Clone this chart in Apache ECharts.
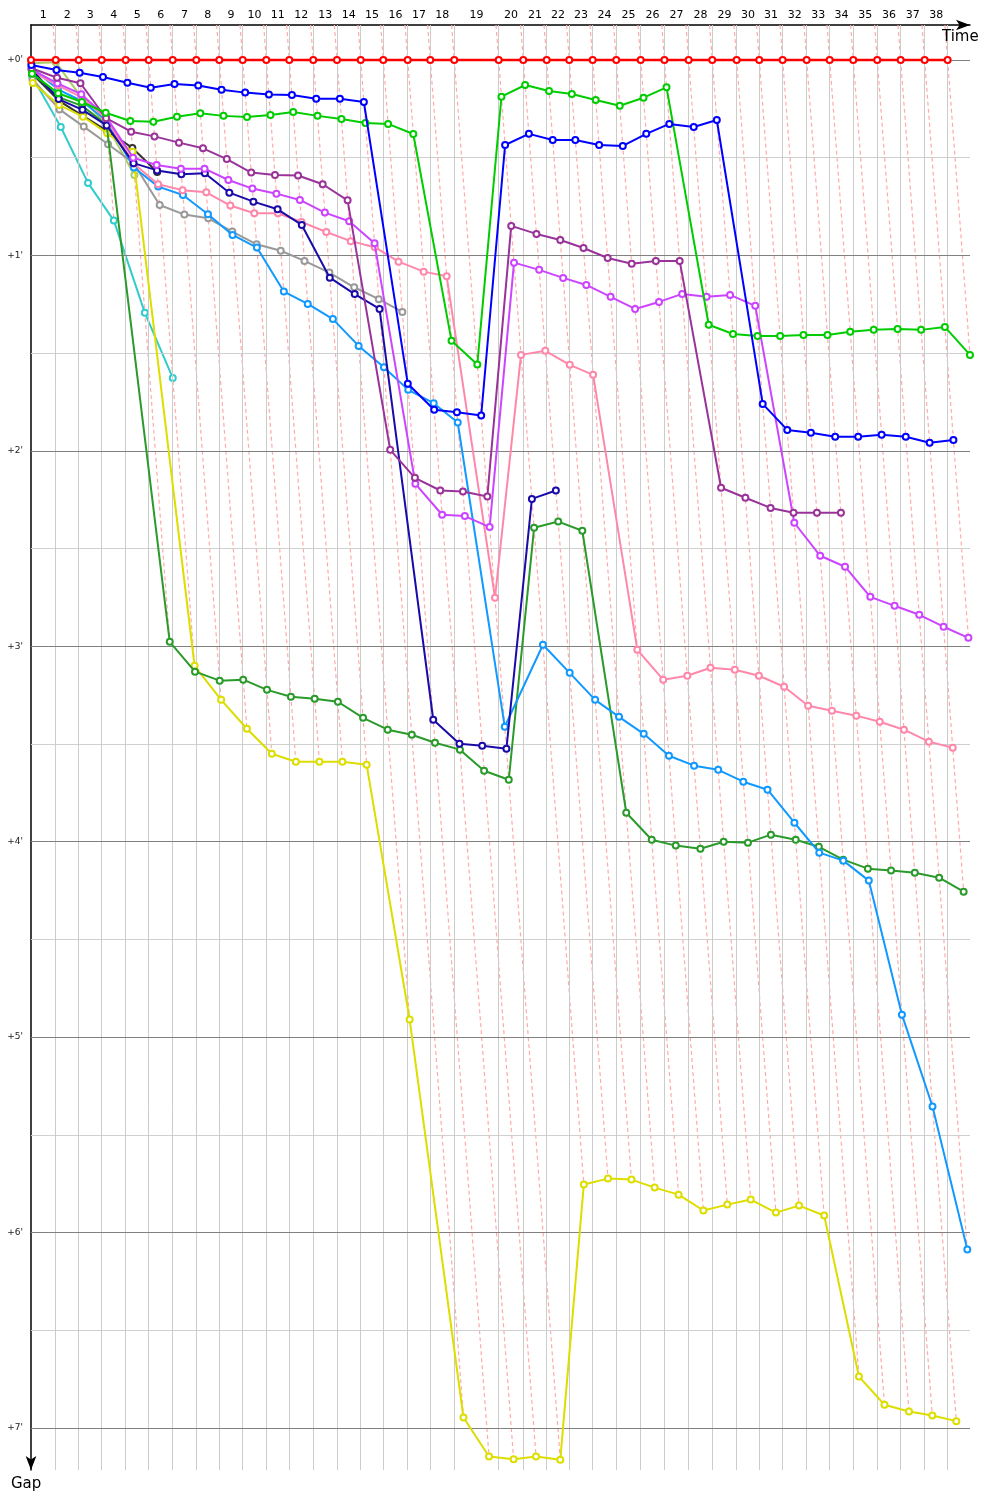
<!DOCTYPE html>
<html><head><meta charset="utf-8">
<script src="https://cdn.jsdelivr.net/npm/echarts@6/dist/echarts.min.js"></script>
<style>html,body{margin:0;padding:0;background:#fff}#c{width:1000px;height:1500px}</style>
</head><body><div id="c"></div>
<script>
// ---- data ----
const lapLabels = ['1','2','3','4','5','6','7','8','9','10','11','12','13','14','15','16','17','18','19','20','21','22','23','24','25','26','27','28','29','30','31','32','33','34','35','36','37','38'];
// leader's elapsed time (minutes) at end of each lap (index 0 = start)
const leaderTimes = [0, 1.669, 3.223, 4.777, 6.399, 7.953, 9.574, 11.169, 12.723, 14.304, 15.899, 17.453, 19.074, 20.676, 22.277, 23.804, 25.453, 26.980, 28.601, 31.601, 33.264, 34.845, 36.372, 37.953, 39.547, 41.196, 42.804, 44.439, 46.034, 47.682, 49.209, 50.790, 52.412, 53.966, 55.561, 57.182, 58.764, 60.385, 61.939];
// gaps to leader (minutes) per lap, index 0 = start
const gapLeader = [0,0,0,0,0,0,0,0,0,0,0,0,0,0,0,0,0,0,0,0,0,0,0,0,0,0,0,0,0,0,0,0,0,0,0,0,0,0,0];
const gapBlue = [0.026, 0.051, 0.065, 0.087, 0.116, 0.142, 0.123, 0.131, 0.152, 0.167, 0.177, 0.179, 0.198, 0.198, 0.215, 1.657, 1.790, 1.802, 1.819, 0.435, 0.378, 0.409, 0.409, 0.435, 0.440, 0.378, 0.327, 0.343, 0.307, 1.760, 1.893, 1.908, 1.928, 1.928, 1.918, 1.928, 1.959, 1.944];
const gapLime = [0.07, 0.17, 0.215, 0.27, 0.312, 0.316, 0.29, 0.273, 0.286, 0.292, 0.281, 0.266, 0.286, 0.302, 0.322, 0.327, 0.379, 1.437, 1.558, 0.188, 0.128, 0.159, 0.174, 0.205, 0.234, 0.193, 0.140, 1.355, 1.402, 1.412, 1.412, 1.407, 1.407, 1.391, 1.381, 1.376, 1.381, 1.366, 1.509];
const gapGreen = [0.06, 0.19, 0.235, 0.332, 2.977, 3.130, 3.176, 3.171, 3.223, 3.258, 3.269, 3.284, 3.366, 3.427, 3.453, 3.494, 3.529, 3.637, 3.683, 2.394, 2.362, 2.409, 3.852, 3.990, 4.020, 4.036, 4.000, 4.005, 3.964, 3.990, 4.026, 4.092, 4.138, 4.148, 4.159, 4.184, 4.256];
const gapYellow = [0.118, 0.23, 0.29, 0.375, 0.469, 3.10, 3.274, 3.422, 3.550, 3.591, 3.591, 3.591, 3.606, 4.910, 6.946, 7.146, 7.160, 7.146, 7.163, 5.754, 5.724, 5.729, 5.770, 5.806, 5.887, 5.857, 5.831, 5.898, 5.862, 5.913, 6.737, 6.881, 6.916, 6.936, 6.965];
const gapPurple = [0.042, 0.091, 0.119, 0.298, 0.367, 0.391, 0.423, 0.452, 0.507, 0.576, 0.588, 0.591, 0.636, 0.718, 1.995, 2.138, 2.203, 2.208, 2.234, 0.849, 0.890, 0.921, 0.962, 1.013, 1.043, 1.028, 1.028, 2.189, 2.240, 2.292, 2.317, 2.317, 2.317];
const gapMagenta = [0.05, 0.12, 0.175, 0.29, 0.50, 0.537, 0.556, 0.556, 0.614, 0.658, 0.684, 0.716, 0.781, 0.825, 0.938, 2.169, 2.327, 2.334, 2.390, 1.037, 1.074, 1.115, 1.151, 1.212, 1.274, 1.238, 1.197, 1.212, 1.202, 1.258, 2.368, 2.537, 2.593, 2.747, 2.793, 2.839, 2.900, 2.957];
const gapPink = [0.06, 0.13, 0.19, 0.30, 0.53, 0.636, 0.666, 0.677, 0.745, 0.784, 0.784, 0.829, 0.880, 0.927, 0.958, 1.032, 1.083, 1.107, 2.752, 1.509, 1.488, 1.560, 1.611, 3.018, 3.171, 3.151, 3.110, 3.120, 3.151, 3.207, 3.304, 3.330, 3.355, 3.386, 3.427, 3.488, 3.519];
const gapSky = [0.04, 0.15, 0.21, 0.31, 0.55, 0.648, 0.691, 0.789, 0.895, 0.960, 1.185, 1.248, 1.326, 1.463, 1.572, 1.688, 1.756, 1.855, 3.412, 2.992, 3.136, 3.274, 3.361, 3.448, 3.560, 3.611, 3.632, 3.693, 3.734, 3.903, 4.056, 4.097, 4.199, 4.885, 5.355, 6.087];
const gapNavy = [0.05, 0.20, 0.255, 0.335, 0.528, 0.565, 0.585, 0.580, 0.679, 0.725, 0.764, 0.844, 1.114, 1.198, 1.274, 3.376, 3.499, 3.509, 3.524, 2.246, 2.203];
const gapCyan = [0.085, 0.343, 0.629, 0.822, 1.294, 1.627];
const gapGray = [0.10, 0.253, 0.341, 0.431, 0.527, 0.742, 0.791, 0.810, 0.878, 0.943, 0.976, 1.028, 1.088, 1.163, 1.224, 1.289];
const gapBlack = [0.07, 0.208, 0.286, 0.362, 0.450, 0.573];
const gapOlive = [0.017, 0.012, 0.193, 0.332, 0.588];
const gapTickValues = [0, 1, 2, 3, 4, 5, 6, 7];
const gapHalfValues = [0.5, 1.5, 2.5, 3.5, 4.5, 5.5, 6.5];

// ---- styles ----
const drivers = [
  {name: 'Olive', gaps: gapOlive, color: '#aacc66'},
  {name: 'Cyan', gaps: gapCyan, color: '#33cccc'},
  {name: 'Black', gaps: gapBlack, color: '#333333'},
  {name: 'Gray', gaps: gapGray, color: '#999999'},
  {name: 'Yellow', gaps: gapYellow, color: '#dddd00'},
  {name: 'Green', gaps: gapGreen, color: '#2a9a2a'},
  {name: 'Sky', gaps: gapSky, color: '#1199ff'},
  {name: 'Pink', gaps: gapPink, color: '#ff88aa'},
  {name: 'Navy', gaps: gapNavy, color: '#1a0aa8'},
  {name: 'Magenta', gaps: gapMagenta, color: '#cc44ff'},
  {name: 'Purple', gaps: gapPurple, color: '#993399'},
  {name: 'Lime', gaps: gapLime, color: '#00cc00'},
  {name: 'Blue', gaps: gapBlue, color: '#0000ff'},
  {name: 'Leader', gaps: gapLeader, color: '#ff0000'}
];

const Y_MIN = -0.179, Y_MAX = 7.215, X_MAX = 63.45;
const FONT = 'DejaVu Sans';

const toPoints = gaps => gaps.map((g, i) => [leaderTimes[i] + g, g]);
const midpoints = leaderTimes.slice(1).map((t, i) => (leaderTimes[i] + t) / 2);

const series = [];
// grid lines
series.push({
  type: 'line', data: [], silent: true, z: 1, symbol: 'none',
  markLine: {
    silent: true, symbol: ['none', 'none'], animation: false,
    data: [
      ...gapHalfValues.map(v => ({yAxis: v, lineStyle: {color: '#d0d0d0', width: 1, type: 'solid'}, label: {show: false}})),
      ...leaderTimes.slice(1).map(t => ({xAxis: t, lineStyle: {color: '#cccccc', width: 1, type: 'solid'}, label: {show: false}})),
      ...gapTickValues.map(v => ({yAxis: v, lineStyle: {color: '#808080', width: 1, type: 'solid'},
        label: {show: true, position: 'start', distance: 8, formatter: "+" + v + "'", color: '#222', fontSize: 9, fontFamily: FONT}}))
    ]
  }
});
// lap lines (dashed) from leader to slowest car on that lap
for (let n = 1; n < leaderTimes.length; n++) {
  const gs = drivers.filter(d => d.gaps.length > n).map(d => d.gaps[n]);
  const maxGap = Math.max(...gs);
  series.push({
    type: 'line', silent: true, z: 2, symbol: 'none', animation: false,
    data: [[leaderTimes[n] + Y_MIN, Y_MIN], [leaderTimes[n] + maxGap, maxGap]],
    lineStyle: {color: '#ffaaaa', width: 1.2, type: [4, 3]}
  });
}
drivers.forEach((d, i) => {
  series.push({
    name: d.name, type: 'line', z: 3 + i, animation: false,
    data: toPoints(d.gaps),
    symbol: 'emptyCircle', symbolSize: 6, showAllSymbol: true,
    lineStyle: {color: d.color, width: d.name === 'Leader' ? 2.5 : 2},
    itemStyle: {color: d.color, borderWidth: 1.3}
  });
});

const chart = echarts.init(document.getElementById('c'), null, {renderer: 'canvas'});
chart.setOption({
  animation: false,
  backgroundColor: '#fff',
  grid: {left: 31, top: 25, right: 30, bottom: 30},
  xAxis: {
    type: 'value', position: 'top', min: 0, max: X_MAX,
    axisLine: {show: true, onZero: false, lineStyle: {color: '#000', width: 1.5}, symbol: ['none', 'arrow'], symbolSize: [8, 14]},
    axisTick: {show: false}, splitLine: {show: false},
    axisLabel: {
      customValues: midpoints, margin: 4, color: '#000', fontSize: 11, fontFamily: FONT,
      formatter: v => {
        let best = 0, bd = 1e9;
        midpoints.forEach((m, i) => { const dd = Math.abs(m - v); if (dd < bd) { bd = dd; best = i; } });
        return lapLabels[best];
      }
    }
  },
  yAxis: {
    type: 'value', inverse: true, min: Y_MIN, max: Y_MAX,
    axisLine: {show: true, onZero: false, lineStyle: {color: '#000', width: 1.5}, symbol: ['arrow', 'none'], symbolSize: [8, 14]},
    axisTick: {show: false}, splitLine: {show: false}, axisLabel: {show: false}
  },
  graphic: [
    {type: 'text', left: 942, top: 30, z: 100, style: {text: 'Time', font: '15px "DejaVu Sans"', fill: '#000'}},
    {type: 'text', left: 11, top: 1477, style: {text: 'Gap', font: '15px "DejaVu Sans"', fill: '#000'}}
  ],
  series: series
});
</script>
</body></html>
